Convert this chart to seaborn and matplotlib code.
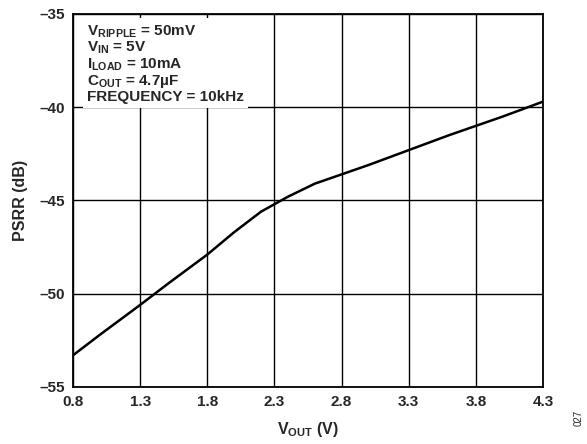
import seaborn as sns
import matplotlib.pyplot as plt
import pandas as pd
import numpy as np

# PSRR vs VOUT
vout = [0.8, 1.0, 1.3, 1.5, 1.8, 2.0, 2.2, 2.4, 2.6, 2.8, 3.0, 3.3, 3.6, 3.8, 4.0, 4.3]
psrr = [-53.3, -52.2, -50.6, -49.5, -47.9, -46.7, -45.6, -44.8, -44.1, -43.6, -43.1, -42.3, -41.5, -41.0, -40.5, -39.7]

xticks = [0.8, 1.3, 1.8, 2.3, 2.8, 3.3, 3.8, 4.3]
xlabels = ["0.8", "1.3", "1.8", "2.3", "2.8", "3.3", "3.8", "4.3"]
yticks = [-55, -50, -45, -40, -35]
ylabels = ["\u201355", "\u201350", "\u201345", "\u201340", "\u201335"]

sns.set_style("white")
plt.rcParams['font.family'] = ['Liberation Sans', 'DejaVu Sans']
plt.rcParams['mathtext.fontset'] = 'custom'
plt.rcParams['mathtext.rm'] = 'Liberation Sans:bold'
plt.rcParams['mathtext.it'] = 'Liberation Sans:bold'
plt.rcParams['mathtext.bf'] = 'Liberation Sans:bold'

df = pd.DataFrame({"vout": vout, "psrr": psrr})

fig = plt.figure(figsize=(5.87, 4.44), dpi=100)
ax = fig.add_axes([0.1244, 0.1284, 0.8006, 0.8401])
sns.lineplot(data=df, x="vout", y="psrr", color="black", linewidth=1.8, ax=ax, zorder=3)

ax.set_xlim(0.8, 4.3)
ax.set_ylim(-55, -35)
ax.set_xticks(xticks)
ax.set_xticklabels(xlabels, fontsize=11, fontweight="bold")
ax.set_yticks(yticks)
ax.set_yticklabels(ylabels, fontsize=11, fontweight="bold")
ax.tick_params(length=0, pad=6)
ax.grid(True, color="black", linewidth=1)
for s in ax.spines.values():
    s.set_color("black")
    s.set_linewidth(1.3)

ax.set_xlabel(r"V$_{\mathrm{OUT}}$ (V)", fontsize=11.5, fontweight="bold", labelpad=8)
ax.set_ylabel("PSRR (dB)", fontsize=11.5, fontweight="bold", labelpad=8)

texto = (r"V$_{\mathrm{RIPPLE}}$ = 50mV" "\n"
         r"V$_{\mathrm{IN}}$ = 5V" "\n"
         r"I$_{\mathrm{LOAD}}$ = 10mA" "\n"
         r"C$_{\mathrm{OUT}}$ = 4.7µF" "\n"
         "FREQUENCY = 10kHz")
ax.text(0.03, 0.975, texto, transform=ax.transAxes, fontsize=11, fontweight="bold",
        va="top", ha="left", linespacing=1.0, zorder=4,
        bbox=dict(facecolor="white", edgecolor="none", pad=3))

fig.text(0.985, 0.04, "027", rotation=90, fontsize=7, ha="center", va="bottom")

plt.savefig("out.png", dpi=100)
